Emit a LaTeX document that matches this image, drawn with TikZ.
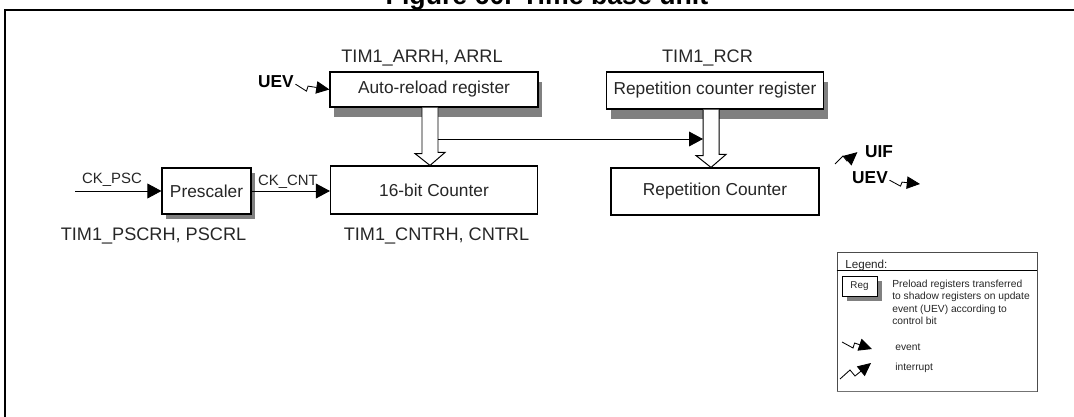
\documentclass[tikz,border=0pt]{standalone}
\usepackage{fontspec}
\setmainfont{Liberation Sans}
\usetikzlibrary{arrows.meta, calc, shadows}

\begin{document}
\begin{tikzpicture}[
        caja/.style={
            rectangle,
            draw=black,
            line width=0.8pt,
            fill=white,
            inner sep=0pt,
            text=black!85,
            font=\fontsize{12.3}{14}\selectfont
        },
        registro/.style={
            caja,
            drop shadow={shadow xshift=0.1cm, shadow yshift=#1, fill=black!50, opacity=1}
        },
        registro/.default=-0.25cm,
        etiqueta/.style={
            inner sep=0pt,
            anchor=base,
            text=black!85,
            font=\fontsize{12.9}{15}\selectfont
        },
        reloj/.style={
            inner sep=0pt,
            anchor=base,
            text=black!85,
            font=\fontsize{10.6}{12}\selectfont
        },
        senal/.style={
            inner sep=1pt,
            anchor=base,
            font=\fontsize{12.3}{14}\selectfont\bfseries
        },
        leyenda/.style={
            inner sep=0pt,
            text=black!85,
            font=\fontsize{7.3}{8.7}\selectfont
        },
        flecha/.style={-{Triangle[length=3.5mm, width=3.7mm]}, line width=0.6pt},
        evento/.style={-{Triangle[length=3.3mm, width=3.1mm]}, line width=0.6pt},
        hueca/.style={draw=black, fill=white, line width=0.7pt}
    ]
        \useasboundingbox (0,0) rectangle (26.85,-10.425);

        % marco y titulo
        \node[anchor=base, inner sep=0pt, font=\fontsize{19}{22}\selectfont\bfseries] (titulo) at (13.675,-0.125) {Figure 60. Time base unit};
        \draw[line width=1.4pt] (0.125,-10.6) |- (27,-0.25);

        % registros y contadores
        \node[registro, minimum width=5.2cm, minimum height=0.875cm] (arr) at (10.85,-2.2375) {Auto-reload register};
        \node[registro, minimum width=5.425cm, minimum height=0.925cm] (rcr) at (17.875,-2.2625) {Repetition counter register};
        \node[registro=-0.125cm, minimum width=2.225cm, minimum height=1.15cm] (psc) at (5.1625,-4.775) {Prescaler};
        \node[caja, minimum width=5.175cm, minimum height=1.2cm] (cnt) at (10.85,-4.75) {16-bit Counter};
        \node[caja, minimum width=5.2cm, minimum height=1.175cm] (rep) at (17.875,-4.7875) {Repetition Counter};

        \node[etiqueta] (arrnom) at (10.55,-1.575) {TIM1\_ARRH, ARRL};
        \node[etiqueta] (rcrnom) at (17.6875,-1.575) {TIM1\_RCR};
        \node[etiqueta] (pscnom) at (3.8375,-6.0) {TIM1\_PSCRH, PSCRL};
        \node[etiqueta] (cntnom) at (10.9125,-6.0) {TIM1\_CNTRH, CNTRL};

        % relojes
        \coordinate (entrada) at (1.875,-4.775);
        \node[reloj] (ckpsc) at (2.8,-4.575) {CK\_PSC};
        \node[reloj] (ckcnt) at (7.2,-4.6375) {CK\_CNT};
        \draw[flecha] (entrada) -- (psc.west);
        \draw[flecha] (psc.east) -- (psc.east -| cnt.west);

        % transferencia de los registros
        \foreach \de/\a in {arr/cnt, rcr/rep}
            \draw[hueca] ([xshift=-0.3cm]\de.south) -- ++(0,-1.15) -- ++(-0.175,0)
                -- ([xshift=-0.1cm]\a.north) -- ++(0.375,0.325) -- ++(-0.175,0)
                -- ([xshift=0.1cm]\de.south);
        \coordinate (derivA) at (10.95,-3.475);
        \coordinate (derivB) at (17.575,-3.475);
        \draw[flecha] (derivA) -- (derivB);

        % eventos
        \node[senal] (uevA) at (6.9,-2.2) {UEV};
        \draw[evento] ([yshift=-0.05cm]uevA.east) -- ++(0.275,-0.175) -- ++(0.04,0.125) -- (arr.west);

        \node[senal] (uif) at (21.975,-3.95) {UIF};
        \coordinate (uifini) at (20.875,-4.1);
        \draw[evento] (uifini) -- ++(0.2,0.2) -- ++(0.1,-0.125) -- ([xshift=-0.15cm]uif.west);

        \node[senal] (uevB) at (21.75,-4.6) {UEV};
        \coordinate (uevfin) at (23.0,-4.6);
        \draw[evento] ([yshift=-0.05cm]uevB.east) -- ++(0.275,-0.15) -- ++(0.04,0.1) -- (uevfin);

        % leyenda
        \node[draw=black!70, line width=0.6pt, minimum width=5cm, minimum height=3.475cm] (legend) at (23.425,-8.0375) {};
        \draw[black!55, line width=1.2pt] (legend.south west) -- (legend.south east);
        \draw[line width=0.5pt] ([yshift=-0.475cm]legend.north west) -- ([yshift=-0.475cm]legend.north east);
        \node[leyenda, anchor=base west, font=\fontsize{8.3}{10}\selectfont] (legtit) at (21.125,-6.7) {Legend:};
        \node[caja, line width=0.6pt, drop shadow={shadow xshift=0.125cm, shadow yshift=-0.125cm, fill=black!50, opacity=1},
            minimum width=0.875cm, minimum height=0.5cm, font=\fontsize{7}{8}\selectfont] (reg) at (21.4875,-7.15) {Reg};
        \node[leyenda, anchor=north west, align=left] (regtxt) at (22.3,-7.0) {
            Preload registers transferred\\
            to shadow registers on update\\
            event (UEV) according to\\
            control bit
        };

        \coordinate (evini) at (21.05,-8.55);
        \coordinate (evfin) at (21.8,-8.725);
        \draw[evento] (evini) -- ++(0.275,-0.15) -- ++(0.04,0.125) -- (evfin);
        \node[leyenda, anchor=base west] (evtxt) at (22.375,-8.75) {event};

        \coordinate (itini) at (21.0,-9.475);
        \coordinate (itfin) at (21.775,-9.075);
        \draw[evento] (itini) -- ++(0.25,0.225) -- ++(0.125,-0.15) -- (itfin);
        \node[leyenda, anchor=base west] (ittxt) at (22.375,-9.25) {interrupt};
    \end{tikzpicture}
\end{document}
